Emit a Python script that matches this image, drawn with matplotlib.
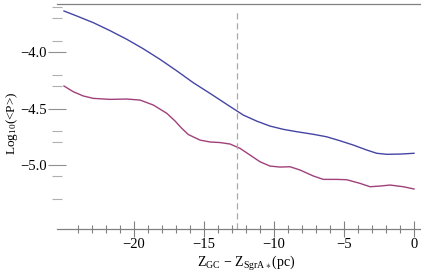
import matplotlib
matplotlib.use("Agg")
import matplotlib.pyplot as plt
from matplotlib.ticker import FixedLocator

plt.rcParams['font.family'] = ['Liberation Serif', 'DejaVu Serif']
plt.rcParams['mathtext.fontset'] = 'custom'
plt.rcParams['mathtext.rm'] = 'Liberation Serif'
plt.rcParams['mathtext.it'] = 'Liberation Serif:italic'

# Data
x_blue = [-25.0, -24.09, -22.91, -21.71, -20.52, -19.34, -18.14, -16.95, -15.76,
          -14.57, -13.14, -12.19, -11.24, -10.29, -9.34, -8.38, -7.19, -6.24,
          -5.29, -4.34, -3.38, -2.66, -1.95, -1.0, 0.0]
y_blue = [-3.637, -3.681, -3.740, -3.811, -3.887, -3.971, -4.065, -4.166, -4.272,
          -4.366, -4.482, -4.558, -4.611, -4.655, -4.684, -4.705, -4.728, -4.750,
          -4.785, -4.823, -4.867, -4.896, -4.905, -4.903, -4.896]

x_pink = [-25.0, -24.34, -23.62, -22.91, -21.71, -20.52, -19.57, -18.62, -17.66,
          -17.07, -16.59, -16.12, -15.29, -14.57, -13.86, -13.14, -12.43, -11.71,
          -11.0, -10.29, -9.57, -8.86, -8.14, -7.19, -6.48, -5.52, -4.81, -3.86,
          -3.14, -2.43, -1.71, -0.76, 0.0]
y_pink = [-4.301, -4.351, -4.389, -4.410, -4.419, -4.416, -4.425, -4.469, -4.542,
          -4.610, -4.675, -4.730, -4.779, -4.796, -4.801, -4.814, -4.852, -4.912,
          -4.971, -5.009, -5.018, -5.015, -5.044, -5.097, -5.127, -5.127, -5.130,
          -5.162, -5.192, -5.186, -5.177, -5.192, -5.212]

x_vline = -12.64
x_major = [-20, -15, -10, -5, 0]
x_minor = [v for v in range(-24, 0) if v % 5 != 0]
y_major = [-4.0, -4.5, -5.0]
y_minor = [-3.6, -3.7, -3.9, -4.2, -4.3, -4.7, -4.8, -5.1, -5.3]

fig = plt.figure(figsize=(4.21, 2.72), dpi=100)
ax = fig.add_axes([57/421, 1 - 229/272, 1 - 57/421, (229 - 4)/272])

ax.plot(x_blue, y_blue, color='#4545a5', lw=1.0, solid_joinstyle='round')
ax.plot(x_pink, y_pink, color='#a0407a', lw=1.0, solid_joinstyle='round')
ax.axvline(x_vline, ymin=0, ymax=0.98, color='#aaaaaa', lw=0.9, ls=(0, (5, 3)))

ax.set_xlim(-25.5, 0.5)
ax.set_ylim(-5.566, -3.575)

for side in ['left', 'right']:
    ax.spines[side].set_visible(False)
for side in ['top', 'bottom']:
    ax.spines[side].set_color('#808080')
    ax.spines[side].set_linewidth(0.9)

ax.xaxis.set_major_locator(FixedLocator(x_major))
ax.xaxis.set_minor_locator(FixedLocator(x_minor))
ax.yaxis.set_major_locator(FixedLocator(y_major))
ax.yaxis.set_minor_locator(FixedLocator(y_minor))
ax.set_xticklabels(['\u221220', '\u221215', '\u221210', '\u22125', '0'])
ax.set_yticklabels(['\u22124.0', '\u22124.5', '\u22125.0'])

ax.tick_params(axis='x', which='major', direction='inout', length=11, width=0.8,
               color='#808080', labelsize=10.5, pad=1)
ax.tick_params(axis='x', which='minor', direction='inout', length=6, width=0.8,
               color='#808080')
ax.tick_params(axis='y', which='major', direction='inout', length=13, width=0.8,
               color='#909090', labelsize=10.5, pad=1)
ax.tick_params(axis='y', which='minor', direction='inout', length=6.5, width=0.8,
               color='#b0b0b0')

ax.set_xlabel(r'$\mathrm{Z_{GC}}\,-\,\mathrm{Z_{SgrA\ast}}$(pc)', fontsize=10, labelpad=2)
ax.set_ylabel(r'Log$_{10}$(<P>)', fontsize=9.5, labelpad=2)
ax.xaxis.set_label_coords(0.52, -0.11)
ax.yaxis.set_label_coords(-0.103, 0.47)

fig.savefig('out.png', dpi=100)
